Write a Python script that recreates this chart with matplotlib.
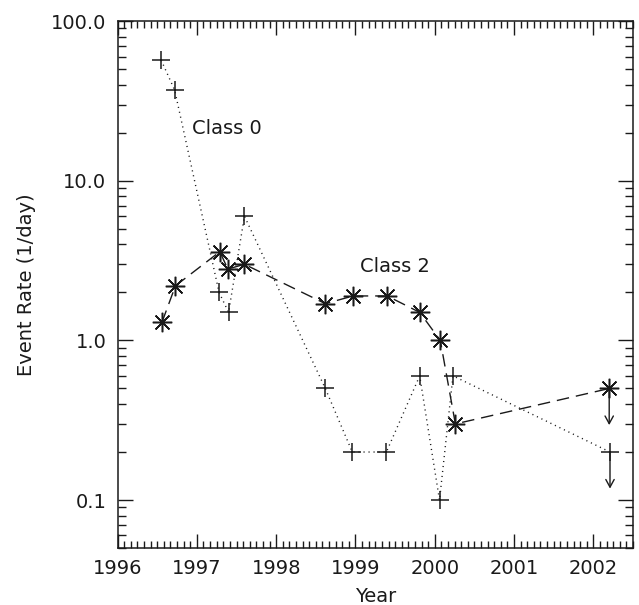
import numpy as np
import matplotlib
matplotlib.use('Agg')
import matplotlib.pyplot as plt
from matplotlib.ticker import FixedLocator, MultipleLocator, LogLocator, NullFormatter

plt.rcParams['font.family'] = ['DejaVu Sans']

# Class 0 event rates (plus markers, dotted)
class0_year = [1996.55, 1996.72, 1997.28, 1997.40, 1997.60, 1998.62, 1998.96,
               1999.39, 1999.81, 2000.06, 2000.23, 2002.21]
class0_rate = [57.0, 37.0, 2.0, 1.5, 6.0, 0.5, 0.2, 0.2, 0.6, 0.1, 0.6, 0.2]
class0_upper = [False] * 11 + [True]

# Class 2 event rates (asterisk markers, dashed)
class2_year = [1996.56, 1996.73, 1997.29, 1997.39, 1997.60, 1998.62, 1998.97,
               1999.40, 1999.81, 2000.07, 2000.26, 2002.20]
class2_rate = [1.3, 2.2, 3.6, 2.8, 3.0, 1.7, 1.9, 1.9, 1.5, 1.0, 0.3, 0.5]
class2_upper = [False] * 11 + [True]

year_ticks = [1996, 1997, 1998, 1999, 2000, 2001, 2002]
rate_ticks = [0.1, 1.0, 10.0, 100.0]
rate_labels = ['0.1', '1.0', '10.0', '100.0']

FS = 14
INK = '#1a1a1a'
ARROW_FACTOR = 0.59  # length of upper-limit arrows (log factor)

fig = plt.figure(figsize=(6.39, 6.05), dpi=100)
ax = fig.add_axes([0.184, 0.094, 0.8066, 0.871])

ax.set_yscale('log')
ax.set_xlim(1996, 2002.5)
ax.set_ylim(0.05, 100)

# series
ax.plot(class0_year, class0_rate, color=INK, lw=1.0, linestyle=(0, (0.8, 2.8)),
        marker='+', markersize=13, markeredgewidth=1.1)
ax.plot(class2_year, class2_rate, color=INK, lw=1.0, linestyle=(0, (9, 5)),
        marker=(8, 2, 0), markersize=14, markeredgewidth=1.1)

# upper limit arrows
for yrs, rates, ups in [(class0_year, class0_rate, class0_upper),
                        (class2_year, class2_rate, class2_upper)]:
    for x, y, u in zip(yrs, rates, ups):
        if u:
            ax.annotate('', xy=(x, y * ARROW_FACTOR), xytext=(x, y),
                        arrowprops=dict(arrowstyle='->,head_length=0.55,head_width=0.3',
                                        color=INK, lw=1.0, shrinkA=0, shrinkB=0,
                                        mutation_scale=10))

ax.text(1996.94, 21.3, 'Class 0', fontsize=FS, va='center', ha='left', color=INK)
ax.text(1999.06, 2.91, 'Class 2', fontsize=FS, va='center', ha='left', color=INK)

# ticks
ax.xaxis.set_major_locator(FixedLocator(year_ticks))
ax.xaxis.set_minor_locator(MultipleLocator(1 / 12))
ax.set_xticklabels([str(y) for y in year_ticks])
ax.yaxis.set_major_locator(FixedLocator(rate_ticks))
ax.set_yticklabels(rate_labels)
ax.yaxis.set_minor_locator(LogLocator(base=10, subs=np.arange(2, 10)))
ax.yaxis.set_minor_formatter(NullFormatter())

ax.tick_params(which='both', direction='in', top=True, right=True, width=1.0,
               labelsize=FS, colors=INK)
ax.tick_params(axis='x', which='major', length=10, pad=8)
ax.tick_params(axis='x', which='minor', length=5)
ax.tick_params(axis='y', which='major', length=11, pad=8)
ax.tick_params(axis='y', which='minor', length=6)

for s in ax.spines.values():
    s.set_linewidth(1.1)
    s.set_color(INK)

ax.set_xlabel('Year', fontsize=FS, labelpad=6, color=INK)
ax.set_ylabel('Event Rate (1/day)', fontsize=FS, labelpad=11, color=INK)

fig.savefig('out.png', dpi=100)
